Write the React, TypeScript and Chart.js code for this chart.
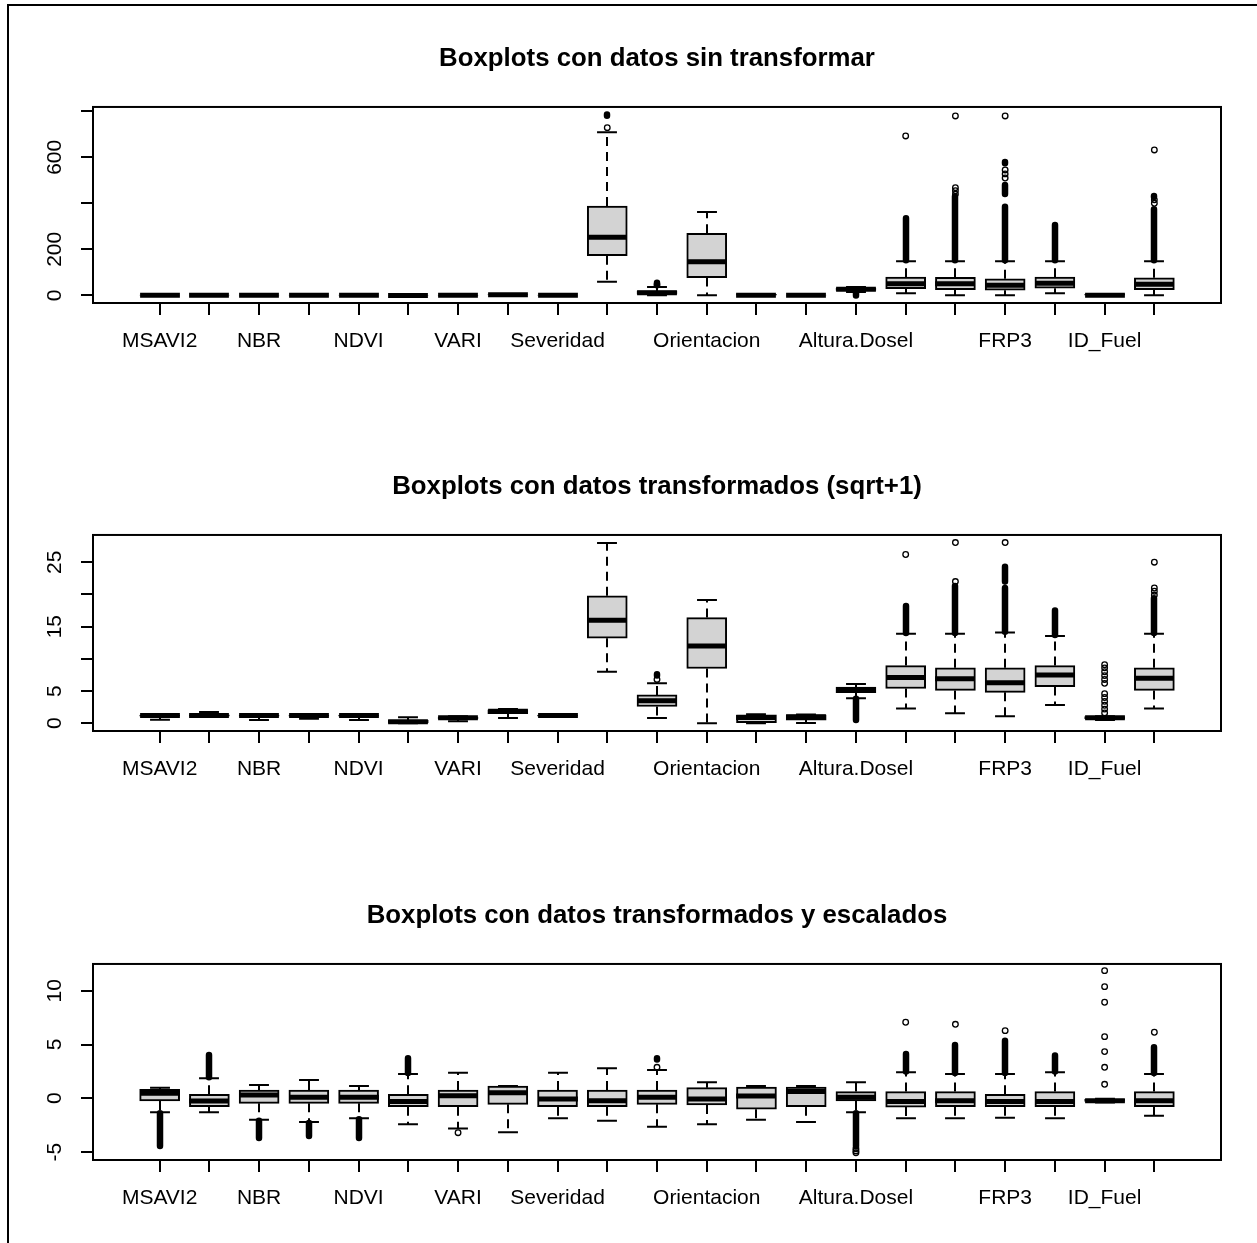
import React, { useEffect, useRef } from "react";
import { Chart, registerables } from "chart.js";

Chart.register(...registerables);

const FONT = "'Liberation Sans', Arial, Helvetica, sans-serif";

// ---------- categories (R hides overlapping labels; hidden ones are blank) ----------
const xLabels = [
  "MSAVI2", "", "NBR", "", "NDVI", "", "VARI", "", "Severidad", "", "",
  "Orientacion", "", "", "Altura.Dosel", "", "", "FRP3", "", "ID_Fuel", "",
];

// ---------- Panel 1: datos sin transformar ----------
const p1Title = "Boxplots con datos sin transformar";
const p1Lo = [-0.6, 0.1, -0.7, -0.5, -0.7, -1.0, -0.9, -0.4, 0.1, 59, 0, 0, 0, 0, 14, 9, 0, 0, 9, 0, 0];
const p1Q1 = [0.2, 0.25, 0.25, 0.25, 0.25, -0.95, -0.45, 1.3, 0.25, 172, 5, 77, 0, 0.2, 21, 29, 25, 22, 31, 0, 25];
const p1Med = [0.45, 0.45, 0.45, 0.45, 0.45, -0.9, -0.3, 2.3, 0.4, 252, 11, 146, 0.5, 0.6, 26, 50, 50, 44, 52, 0, 48];
const p1Q3 = [0.6, 0.7, 0.65, 0.65, 0.65, -0.8, -0.1, 3.4, 0.5, 388, 19, 270, 0.7, 0.7, 30, 79, 78, 72, 79, 0.3, 76];
const p1Hi = [0.8, 1.6, 0.9, 0.95, 0.9, -0.1, 0.1, 3.8, 0.6, 709, 36, 362, 1, 0.9, 36, 148, 148, 148, 148, 0.5, 148];
const p1Out: [number, number][] = [
  [10, 729], [11, 45], [16, 693], [17, 780], [17, 440], [17, 455], [17, 468],
  [18, 780], [18, 510], [18, 528], [18, 545], [21, 632], [21, 400], [21, 415],
];
const p1Dense: [number, number, number][] = [
  [10, 781, 786], [11, 51, 55], [15, -0.7, 13], [16, 152, 335], [17, 152, 430],
  [18, 152, 385], [18, 440, 480], [18, 574, 580], [19, 152, 306], [21, 152, 374], [21, 427, 432],
];
const p1YMin = -33.5;
const p1YMax = 819;
const p1YTicks = [0, 200, 400, 600, 800];
const p1YLabels = ["0", "200", "", "600", ""];

// ---------- Panel 2: transformados (sqrt+1) ----------
const p2Title = "Boxplots con datos transformados (sqrt+1)";
const p2Lo = [0.55, 1.05, 0.5, 0.7, 0.5, 0, 0.3, 0.8, 1.0, 8.0, 0.8, 0, 0, 0.05, 3.9, 2.3, 1.55, 1.1, 2.85, 0.5, 2.3];
const p2Q1 = [1.1, 1.12, 1.1, 1.1, 1.1, 0.05, 0.72, 1.5, 1.12, 13.2, 2.6, 8.5, 0.1, 0.5, 4.75, 5.4, 5.1, 4.8, 5.7, 0.7, 5.1];
const p2Med = [1.2, 1.2, 1.2, 1.2, 1.2, 0.25, 0.85, 1.85, 1.2, 16.0, 3.5, 12.0, 0.9, 1.0, 5.2, 7.1, 6.9, 6.3, 7.5, 0.87, 7.0];
const p2Q3 = [1.28, 1.3, 1.28, 1.28, 1.28, 0.45, 0.98, 2.1, 1.28, 19.8, 4.4, 16.4, 1.3, 1.3, 5.6, 8.95, 8.6, 8.6, 8.95, 1.05, 8.6];
const p2Hi = [1.36, 1.75, 1.36, 1.38, 1.36, 0.95, 1.1, 2.2, 1.35, 28.0, 6.2, 19.15, 1.4, 1.38, 6.1, 13.9, 13.9, 14.1, 13.55, 1.1, 13.9];
const p2Out: [number, number][] = [
  [11, 6.8], [16, 26.2], [17, 22.0], [17, 28.05], [18, 28.05], [21, 25.0], [21, 19.9], [21, 20.5], [21, 21.0],
  [20, 1.6], [20, 2.2], [20, 2.8], [20, 3.4], [20, 4.0], [20, 4.6], [20, 6.2], [20, 6.8], [20, 7.4], [20, 8.0], [20, 8.6], [20, 9.1],
];
const p2Dense: [number, number, number][] = [
  [11, 7.4, 7.6], [15, 0.5, 3.8], [16, 14.0, 18.2], [17, 14.0, 21.3], [18, 14.2, 21.0],
  [18, 22.0, 24.3], [19, 13.7, 17.5], [21, 14.0, 19.4],
];
const p2YMin = -1.2;
const p2YMax = 29.23;
const p2YTicks = [0, 5, 10, 15, 20, 25];
const p2YLabels = ["0", "5", "", "15", "", "25"];

// ---------- Panel 3: transformados y escalados ----------
const p3Title = "Boxplots con datos transformados y escalados";
const p3Lo = [-1.3, -1.3, -2.0, -2.2, -1.86, -2.42, -2.8, -3.16, -1.86, -2.08, -2.64, -2.42, -2.0, -2.2, -1.3, -1.86, -1.86, -1.8, -1.86, -0.4, -1.62];
const p3Q1 = [-0.25, -0.78, -0.47, -0.47, -0.47, -0.78, -0.78, -0.56, -0.78, -0.78, -0.56, -0.62, -1.02, -0.78, -0.25, -0.82, -0.78, -0.78, -0.78, -0.3, -0.78];
const p3Med = [0.47, -0.25, 0.3, 0.09, 0.1, -0.3, 0.24, 0.52, -0.07, -0.22, 0.1, -0.07, 0.21, 0.62, 0.1, -0.31, -0.22, -0.3, -0.3, -0.22, -0.22];
const p3Q3 = [0.84, 0.37, 0.77, 0.77, 0.77, 0.37, 0.77, 1.14, 0.77, 0.77, 0.77, 0.99, 1.05, 1.05, 0.62, 0.62, 0.62, 0.37, 0.62, -0.1, 0.62];
const p3Hi = [0.99, 1.86, 1.24, 1.7, 1.14, 2.26, 2.38, 1.14, 2.38, 2.79, 2.63, 1.49, 1.14, 1.14, 1.49, 2.42, 2.26, 2.26, 2.42, -0.05, 2.26];
const p3Out: [number, number][] = [
  [7, -3.2], [11, 2.88], [16, 7.07], [17, 6.88], [18, 6.29], [21, 6.14],
  [20, 1.3], [20, 2.88], [20, 4.34], [20, 5.73], [20, 8.93], [20, 10.38], [20, 11.87],
  [15, -4.7], [15, -4.9], [15, -5.07],
];
const p3Dense: [number, number, number][] = [
  [1, -4.44, -1.4], [2, 1.95, 4.03], [3, -3.7, -2.1], [4, -3.5, -2.3], [5, -3.7, -1.95],
  [6, 2.35, 3.72], [11, 3.6, 3.72], [15, -4.45, -1.4], [16, 2.5, 4.12], [17, 2.35, 4.96],
  [18, 2.35, 5.36], [19, 2.5, 3.97], [21, 2.35, 4.74],
];
const p3YMin = -5.74;
const p3YMax = 12.49;
const p3YTicks = [-5, 0, 5, 10];
const p3YLabels = ["-5", "0", "5", "10"];

type Panel = {
  title: string;
  lo: number[]; q1: number[]; med: number[]; q3: number[]; hi: number[];
  out: [number, number][]; dense: [number, number, number][];
  yMin: number; yMax: number; yTicks: number[]; yLabels: string[];
};

const panels: Panel[] = [
  { title: p1Title, lo: p1Lo, q1: p1Q1, med: p1Med, q3: p1Q3, hi: p1Hi, out: p1Out, dense: p1Dense, yMin: p1YMin, yMax: p1YMax, yTicks: p1YTicks, yLabels: p1YLabels },
  { title: p2Title, lo: p2Lo, q1: p2Q1, med: p2Med, q3: p2Q3, hi: p2Hi, out: p2Out, dense: p2Dense, yMin: p2YMin, yMax: p2YMax, yTicks: p2YTicks, yLabels: p2YLabels },
  { title: p3Title, lo: p3Lo, q1: p3Q1, med: p3Med, q3: p3Q3, hi: p3Hi, out: p3Out, dense: p3Dense, yMin: p3YMin, yMax: p3YMax, yTicks: p3YTicks, yLabels: p3YLabels },
];

const X_MIN = -0.34;
const X_MAX = 22.34;
const BOXWEX = 0.8;
const TICK_FONT = 21;
const TITLE_FONT = 25.8;

function measureWidest(labels: string[]): number {
  const c = document.createElement("canvas").getContext("2d")!;
  c.font = `${TICK_FONT}px ${FONT}`;
  return Math.max(...labels.map((l) => c.measureText(l).width));
}

function makeChart(canvas: HTMLCanvasElement, p: Panel): Chart {
  const n = p.q1.length;
  const boxData = p.q1.map((v, i) => ({ x: i + 1, y: [v, p.q3[i]] }));
  const outData = p.out.map(([b, v]) => ({ x: b, y: v }));
  const yPad = 26 - measureWidest(p.yLabels) / 2;

  const plugin = {
    id: "rboxExtras",
    beforeDatasetsDraw(chart: any) {
      const { ctx, chartArea: a, scales } = chart;
      const x = scales.x, y = scales.y;
      const half = x.getPixelForValue(1 + BOXWEX / 2) - x.getPixelForValue(1);
      const cap = half / 2;
      ctx.save();
      ctx.beginPath();
      ctx.rect(a.left, a.top, a.right - a.left, a.bottom - a.top);
      ctx.clip();
      ctx.strokeStyle = "#000";
      ctx.lineWidth = 2;
      ctx.lineCap = "butt";
      // dashed whiskers
      ctx.setLineDash([9, 6]);
      ctx.beginPath();
      for (let i = 0; i < n; i++) {
        const px = Math.round(x.getPixelForValue(i + 1));
        ctx.moveTo(px, y.getPixelForValue(p.q3[i]));
        ctx.lineTo(px, y.getPixelForValue(p.hi[i]));
        ctx.moveTo(px, y.getPixelForValue(p.q1[i]));
        ctx.lineTo(px, y.getPixelForValue(p.lo[i]));
      }
      ctx.stroke();
      ctx.setLineDash([]);
      // staples
      ctx.beginPath();
      for (let i = 0; i < n; i++) {
        const px = Math.round(x.getPixelForValue(i + 1));
        const yh = y.getPixelForValue(p.hi[i]);
        const yl = y.getPixelForValue(p.lo[i]);
        ctx.moveTo(px - cap, yh); ctx.lineTo(px + cap, yh);
        ctx.moveTo(px - cap, yl); ctx.lineTo(px + cap, yl);
      }
      ctx.stroke();
      // dense runs of overlapping outliers
      ctx.lineWidth = 6.5;
      ctx.lineCap = "round";
      ctx.beginPath();
      for (const [b, v0, v1] of p.dense) {
        const px = Math.round(x.getPixelForValue(b));
        ctx.moveTo(px, y.getPixelForValue(v0));
        ctx.lineTo(px, y.getPixelForValue(v1));
      }
      ctx.stroke();
      ctx.restore();
    },
    afterDatasetsDraw(chart: any) {
      const { ctx, chartArea: a, scales } = chart;
      const x = scales.x, y = scales.y;
      const half = x.getPixelForValue(1 + BOXWEX / 2) - x.getPixelForValue(1);
      ctx.save();
      ctx.strokeStyle = "#000";
      ctx.lineWidth = 5;
      ctx.lineCap = "butt";
      ctx.beginPath();
      for (let i = 0; i < n; i++) {
        const px = Math.round(x.getPixelForValue(i + 1));
        const ym = y.getPixelForValue(p.med[i]);
        ctx.moveTo(px - half, ym);
        ctx.lineTo(px + half, ym);
      }
      ctx.stroke();
      ctx.lineWidth = 2;
      ctx.strokeRect(a.left, a.top, a.right - a.left, a.bottom - a.top);
      ctx.restore();
    },
  };

  return new Chart(canvas, {
    type: "bar",
    data: {
      datasets: [
        {
          type: "scatter",
          data: outData,
          order: 0,
          pointStyle: "circle",
          pointRadius: 2.8,
          pointBorderWidth: 1.3,
          pointBorderColor: "#000",
          pointBackgroundColor: "rgba(0,0,0,0)",
        } as any,
        {
          type: "bar",
          data: boxData as any,
          order: 1,
          backgroundColor: "#d3d3d3",
          borderColor: "#000",
          borderWidth: 2,
          borderSkipped: false,
          barThickness: 40,
          grouped: false,
        } as any,
      ],
    },
    options: {
      animation: false,
      responsive: false,
      events: [],
      layout: { padding: { left: 0, right: 36, top: 0, bottom: 0 } },
      plugins: {
        legend: { display: false },
        tooltip: { enabled: false },
        title: {
          display: true,
          text: p.title,
          fullSize: false,
          color: "#000",
          font: { family: FONT, size: TITLE_FONT, weight: "bold", lineHeight: 1.2 },
          padding: { top: 43, bottom: 33 },
        },
      },
      scales: {
        x: {
          type: "linear",
          min: X_MIN,
          max: X_MAX,
          bounds: "data",
          offset: false,
          afterBuildTicks: (s: any) => {
            s.ticks = xLabels.map((_, i) => ({ value: i + 1 }));
          },
          afterFit: (s: any) => {
            s.height = 125;
          },
          ticks: {
            autoSkip: false,
            maxRotation: 0,
            minRotation: 0,
            padding: 14,
            color: "#000",
            font: { family: FONT, size: TICK_FONT },
            callback: (_v: any, i: number) => xLabels[i],
          },
          grid: { offset: false, drawOnChartArea: false, drawTicks: true, tickLength: 12, color: "#000", lineWidth: 2 },
          border: { display: false },
        },
        y: {
          type: "linear",
          min: p.yMin,
          max: p.yMax,
          bounds: "data",
          afterBuildTicks: (s: any) => {
            s.ticks = p.yTicks.map((v) => ({ value: v }));
          },
          afterFit: (s: any) => {
            s.width = 93;
          },
          ticks: {
            autoSkip: false,
            minRotation: 90,
            maxRotation: 90,
            crossAlign: "center",
            padding: yPad,
            color: "#000",
            font: { family: FONT, size: TICK_FONT },
            callback: (_v: any, i: number) => p.yLabels[i],
          },
          grid: { drawOnChartArea: false, drawTicks: true, tickLength: 12, color: "#000", lineWidth: 2 },
          border: { display: false },
        },
      },
    } as any,
    plugins: [plugin as any],
  });
}

export default function App() {
  const r1 = useRef<HTMLCanvasElement>(null);
  const r2 = useRef<HTMLCanvasElement>(null);
  const r3 = useRef<HTMLCanvasElement>(null);

  useEffect(() => {
    const refs = [r1, r2, r3];
    const charts = refs.map((r, i) => makeChart(r.current!, panels[i]));
    return () => charts.forEach((c) => c.destroy());
  }, []);

  return (
    <div
      style={{
        position: "fixed",
        left: 0,
        top: 0,
        width: 1257,
        height: 1243,
        overflow: "hidden",
        background: "#fff",
      }}
    >
      <canvas ref={r1} width={1257} height={428} style={{ position: "absolute", left: 0, top: 0 }} />
      <canvas ref={r2} width={1257} height={428} style={{ position: "absolute", left: 0, top: 428 }} />
      <canvas ref={r3} width={1257} height={428} style={{ position: "absolute", left: 0, top: 857 }} />
      <div
        style={{
          position: "absolute",
          left: 7,
          top: 4,
          right: -10,
          bottom: -10,
          borderTop: "2px solid #000",
          borderLeft: "2px solid #000",
          pointerEvents: "none",
        }}
      />
    </div>
  );
}
